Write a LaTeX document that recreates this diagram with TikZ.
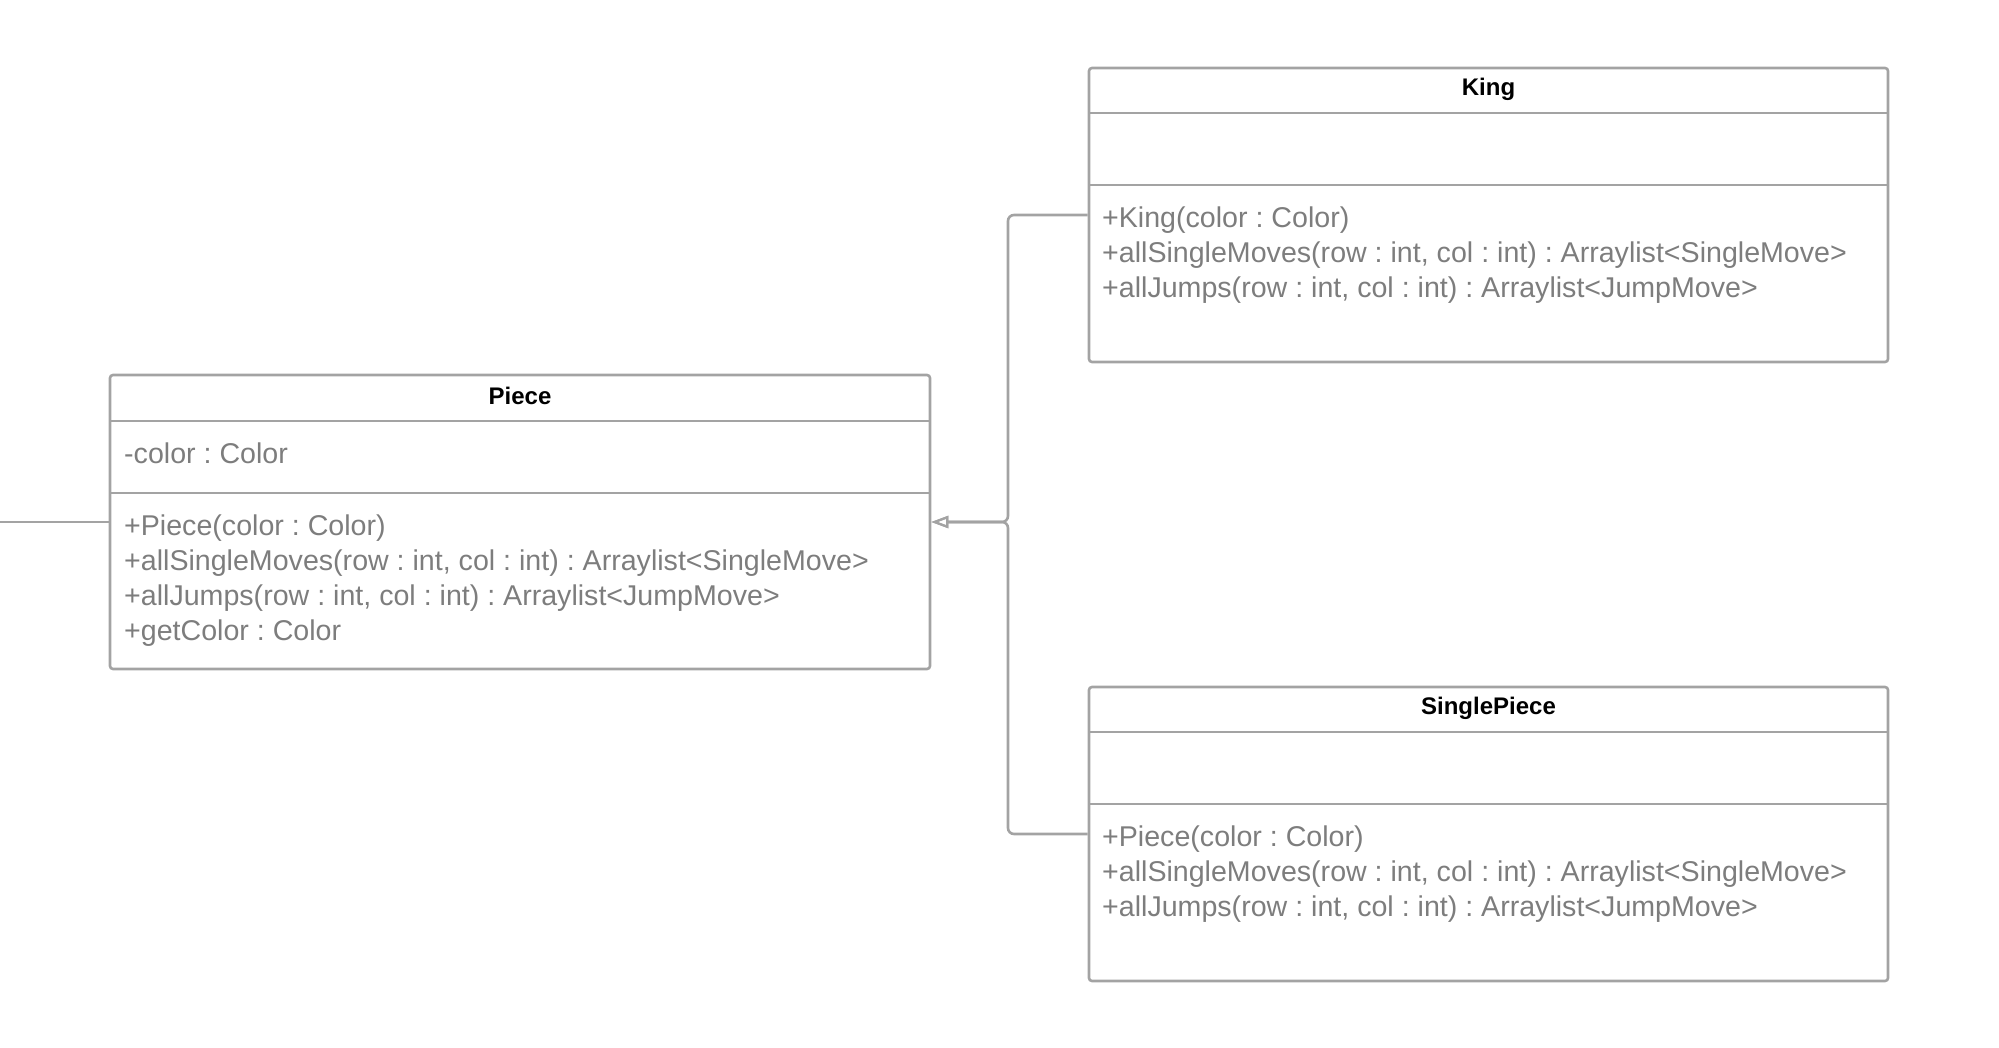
\documentclass[tikz,border=0pt]{standalone}
\usepackage{fontspec}
\setmainfont{Liberation Sans}
\usetikzlibrary{
  arrows.meta,
  calc,
  positioning
}
\frenchspacing
\definecolor{linegray}{RGB}{163,163,163}
\definecolor{textgray}{RGB}{125,125,125}
\tikzset{
  classbox/.style={draw=linegray,line width=2.6pt,rounded corners=3pt,inner sep=0pt,minimum width=#1},
  classname/.style={font=\fontsize{24}{28}\selectfont\bfseries,text=black,inner sep=0pt},
  members/.style={font=\fontsize{28.6}{34.8}\selectfont,text=textgray,inner sep=0pt,anchor=north west,align=left},
  sepline/.style={draw=linegray,line width=2.6pt},
  inherit/.style={draw=linegray,line width=2.6pt,rounded corners=6pt,
    -{Triangle[open,length=17pt,width=12pt,line width=2.2pt]}}
}

\begin{document}
\begin{tikzpicture}[x=1pt,y=-1pt]
      \useasboundingbox (0,0) rectangle (1999,1048);

      % classes
      \node[classbox=820pt,minimum height=294pt] (piece) at (520,522) {};
      \node[classbox=799pt,minimum height=294pt] (king) at (1488.5,215) {};
      \node[classbox=799pt,minimum height=294pt] (single) at (1488.5,834) {};

      % compartments
      \draw[sepline] (110,421) -- (930,421);
      \draw[sepline] (110,493) -- (930,493);
      \draw[sepline] (1089,113) -- (1888,113);
      \draw[sepline] (1089,185) -- (1888,185);
      \draw[sepline] (1089,732) -- (1888,732);
      \draw[sepline] (1089,804) -- (1888,804);

      % names
      \node[classname] (piecename) at (520,396) {Piece};
      \node[classname] (kingname) at (1488.5,89) {King};
      \node[classname] (singlename) at (1488.5,708) {SinglePiece};

      % attributes and operations
      \node[members] (pieceattr) at (124,443) {-color : Color};
      \node[members] (pieceops) at (124,515) {+Piece(color : Color)\\
        +allSingleMoves(row : int, col : int) : Arraylist<SingleMove>\\
        +allJumps(row : int, col : int) : Arraylist<JumpMove>\\
        +getColor : Color};
      \node[members] (kingops) at (1102,207) {+King(color : Color)\\
        +allSingleMoves(row : int, col : int) : Arraylist<SingleMove>\\
        +allJumps(row : int, col : int) : Arraylist<JumpMove>};
      \node[members] (singleops) at (1102,826) {+Piece(color : Color)\\
        +allSingleMoves(row : int, col : int) : Arraylist<SingleMove>\\
        +allJumps(row : int, col : int) : Arraylist<JumpMove>};

      % generalisation
      \coordinate (trunk) at (1008,522);
      \coordinate (lftend) at (0,522);
      \draw[inherit] (king.west) -| (trunk) -- (piece.east);
      \draw[inherit] (single.west) -| (trunk) -- (piece.east);
      \draw[sepline] (lftend) -- (piece.west);
    \end{tikzpicture}
\end{document}
